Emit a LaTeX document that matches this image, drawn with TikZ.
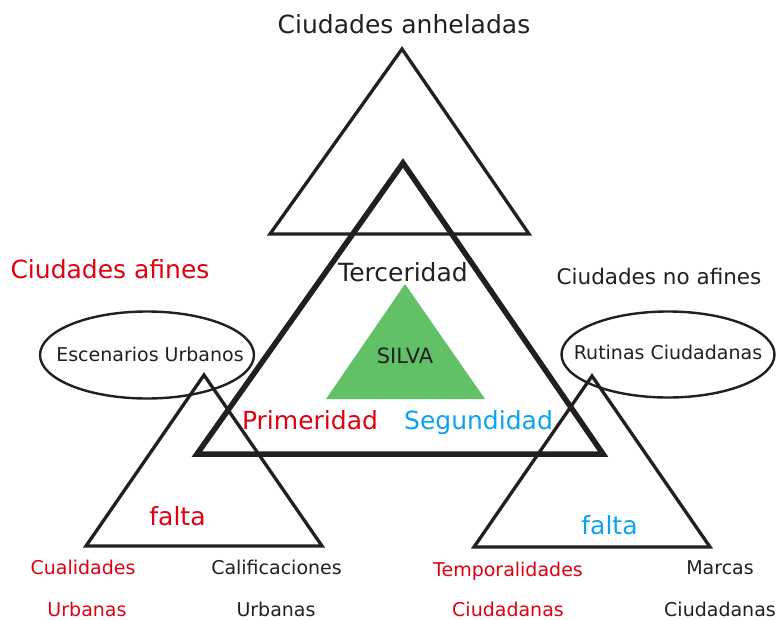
\documentclass[tikz,border=0pt]{standalone}
\usepackage{fontspec}
\setmainfont{DejaVu Sans}
\definecolor{dk}{RGB}{35,31,32}
\definecolor{rd}{RGB}{225,0,15}
\definecolor{bl}{RGB}{12,162,242}
\definecolor{gr}{RGB}{98,192,102}
\begin{document}
\begin{tikzpicture}[x=1pt,y=-1pt,
  lbl/.style={inner sep=0pt,text depth=0pt,anchor=center,text=dk},
  big/.style={lbl,text height=18.2pt,font=\fontsize{25}{28}\selectfont},
  mid/.style={lbl,text height=15.7pt,font=\fontsize{21.5}{24}\selectfont},
  sml/.style={lbl,text height=13.9pt,font=\fontsize{19}{22}\selectfont},
  slv/.style={lbl,text height=15.3pt,font=\fontsize{21}{24}\selectfont},
  tri/.style={draw=dk,line width=3.3pt,miter limit=10,line join=miter},
  thick tri/.style={draw=dk,line width=5.5pt,miter limit=10,line join=miter},
  oval/.style={draw=dk,line width=2.4pt}]
\useasboundingbox (0,0) rectangle (778,620);
% green triangle
\fill[gr] (405,284) -- (485,399) -- (326,399) -- cycle;
% top triangle
\draw[tri] (402,49) -- (529,234) -- (270,234) -- cycle;
% central thick triangle
\draw[thick tri] (403,163) -- (603,454) -- (197,454) -- cycle;
% ellipses
\draw[oval] (147,355) ellipse [x radius=107,y radius=43.5];
\draw[oval] (668,354.5) ellipse [x radius=106.5,y radius=43];
% small triangles
\draw[tri] (204,375) -- (322,546) -- (86,546) -- cycle;
\draw[tri] (592,376) -- (710,547) -- (474,547) -- cycle;
% texts
\node[big] (anh) at (404,24) {Ciudades anheladas};
\node[big,text=rd] (afi) at (110,269) {Ciudades afines};
\node[mid] (noafi) at (659,277) {Ciudades no afines};
\node[big] (ter) at (403,272) {Terceridad};
\node[slv] (silva) at (405,356) {SILVA};
\node[big,text=rd] (pri) at (310,420) {Primeridad};
\node[big,text=bl] (seg) at (478.5,420) {Segundidad};
\node[sml] (esc) at (150,355) {Escenarios Urbanos};
\node[sml] (rut) at (668,353) {Rutinas Ciudadanas};
\node[big,text=rd] (fl) at (177.5,516) {falta};
\node[big,text=bl] (fr) at (609.5,525) {falta};
\node[sml,text=rd] (cua) at (83,568) {Cualidades};
\node[sml,text=rd] (urb1) at (87,610) {Urbanas};
\node[sml] (cal) at (276.5,568) {Calificaciones};
\node[sml] (urb2) at (276,610) {Urbanas};
\node[sml,text=rd] (tem) at (508,570) {Temporalidades};
\node[sml,text=rd] (ciu1) at (508,610) {Ciudadanas};
\node[sml] (mar) at (720,568) {Marcas};
\node[sml] (ciu2) at (720,610) {Ciudadanas};
\end{tikzpicture}
\end{document}
